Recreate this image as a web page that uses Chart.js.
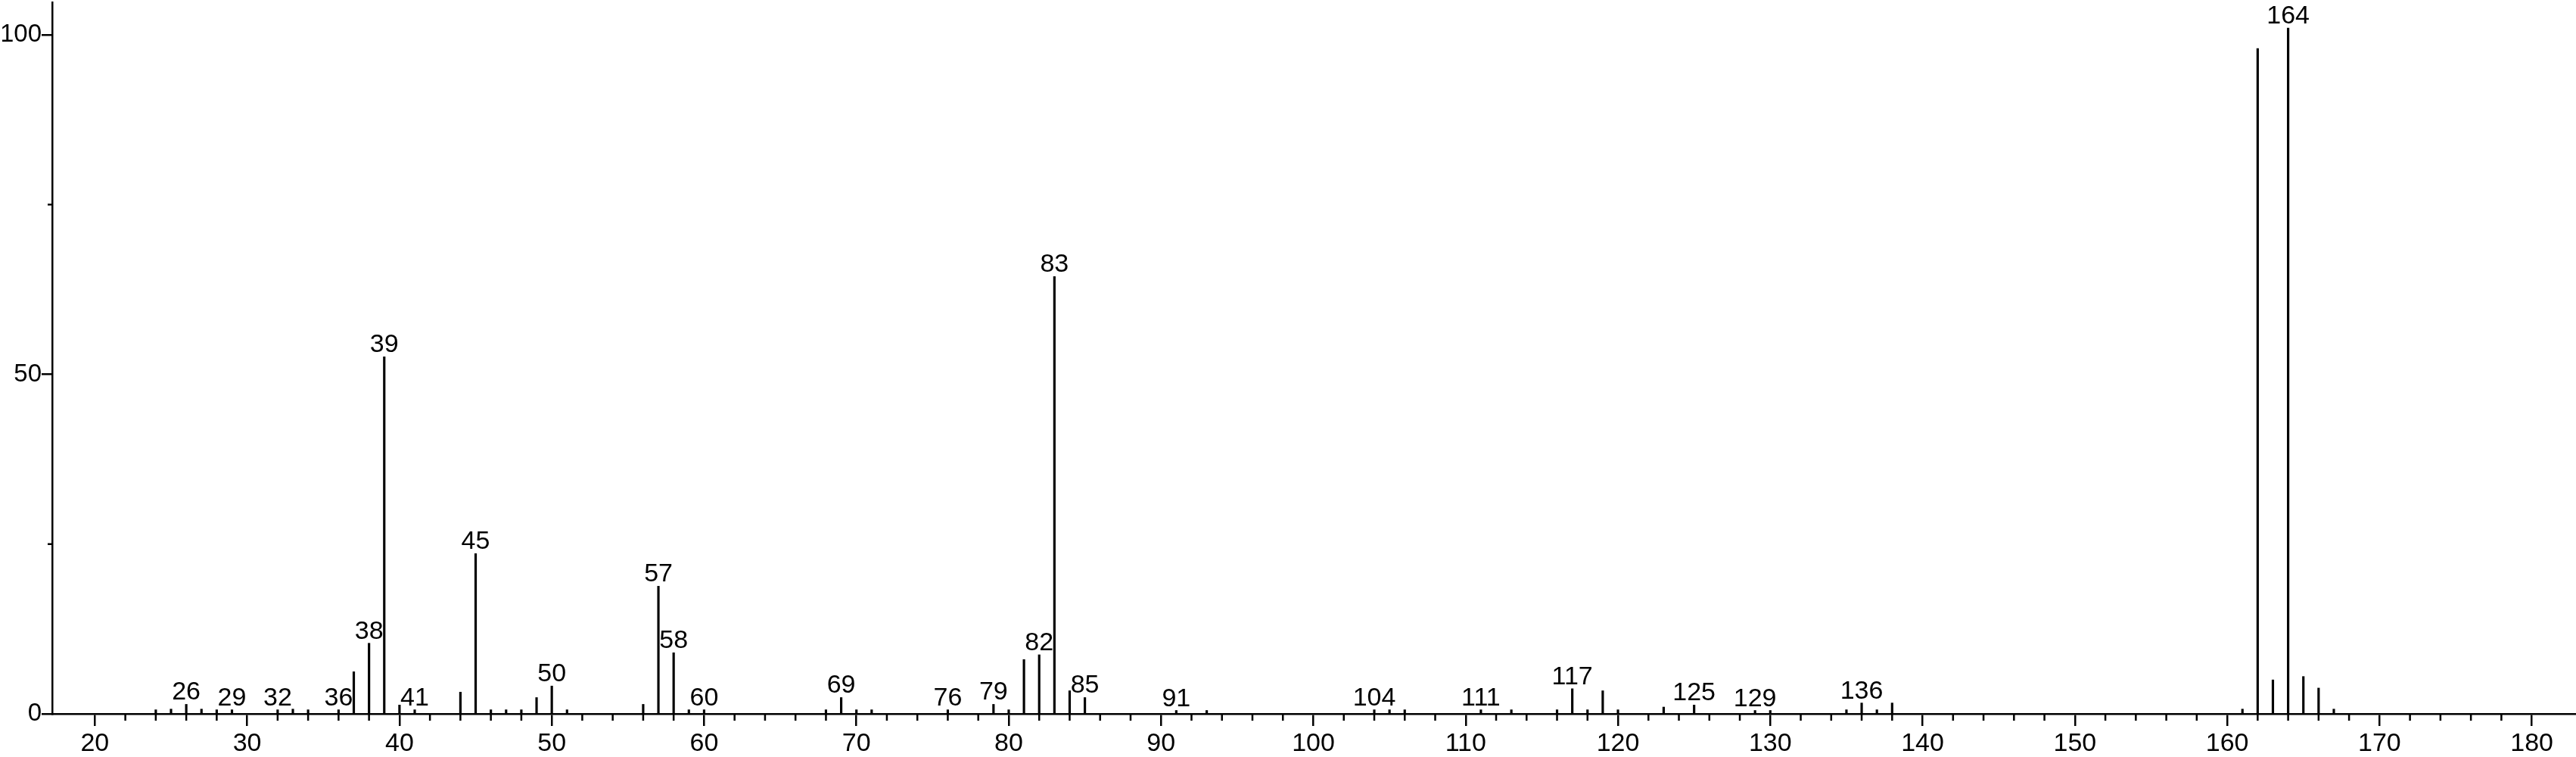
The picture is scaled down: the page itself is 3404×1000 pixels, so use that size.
<!DOCTYPE html>
<html>
<head>
<meta charset="utf-8">
<script src="https://cdn.jsdelivr.net/npm/chart.js@4.4.1/dist/chart.umd.min.js"></script>
<style>
  body { margin: 0; background: #fff; }
  #wrap { width: 3404px; height: 1000px; }
</style>
</head>
<body>
<div id="wrap"><canvas id="spectrum"></canvas></div>
<script>
// m/z of every stick and its relative intensity (%)
let mz = [24, 25, 26, 27, 28, 29, 32, 33, 34, 36, 37, 38, 39, 40, 41, 44, 45, 46, 47, 48,
  49, 50, 51, 56, 57, 58, 59, 60, 68, 69, 70, 71, 76, 79, 80, 81, 82, 83, 84, 85,
  91, 93, 104, 105, 106, 111, 113, 116, 117, 118, 119, 120, 123, 125, 129, 130,
  135, 136, 137, 138, 161, 162, 163, 164, 165, 166, 167];
let intensity = [0.6, 0.7, 1.4, 0.7, 0.6, 0.6, 0.6, 0.7, 0.6, 0.6, 6.2, 10.4, 52.6, 1.3, 0.6, 3.2, 23.6, 0.6, 0.6, 0.6,
  2.4, 4.1, 0.6, 1.4, 18.8, 9.0, 0.6, 0.6, 0.6, 2.4, 0.6, 0.6, 0.6, 1.4, 0.6, 8.0, 8.7, 64.4, 3.4, 2.4,
  0.5, 0.5, 0.6, 0.6, 0.6, 0.6, 0.6, 0.6, 3.7, 0.6, 3.4, 0.6, 1.0, 1.3, 0.5, 0.5,
  0.6, 1.6, 0.6, 1.6, 0.7, 98.0, 5.0, 101.0, 5.5, 3.8, 0.7];
// sticks that carry a m/z label
let labeled = [26, 29, 32, 36, 38, 39, 41, 45, 50, 57, 58, 60, 69, 76, 79, 82, 83, 85,
  91, 104, 111, 117, 125, 129, 136, 164];
let xTicks = [20, 30, 40, 50, 60, 70, 80, 90, 100, 110, 120, 130, 140, 150, 160, 170, 180];
let yTicks = [0, 50, 100];
let yMinor = [25, 75];

const FONT = "'Liberation Sans', Arial, sans-serif";

const points = [];
for (i = 0; i < mz.length; i++) {
  points.push({ x: mz[i], y: intensity[i] });
}

const peakLabels = {
  id: "peakLabels",
  afterDatasetsDraw(chart) {
    const ctx = chart.ctx;
    const xs = chart.scales.x;
    const ys = chart.scales.y;
    ctx.save();
    ctx.fillStyle = "#000";
    ctx.font = "34px " + FONT;
    ctx.textAlign = "center";
    ctx.textBaseline = "alphabetic";
    labeled.forEach((m) => {
      const v = intensity[mz.indexOf(m)];
      ctx.fillText(String(m), xs.getPixelForValue(m), ys.getPixelForValue(v) - 6);
    });
    ctx.restore();
  },
};

// short ticks between the labelled ones
const minorTicks = {
  id: "minorTicks",
  afterDraw(chart) {
    const ctx = chart.ctx;
    const xs = chart.scales.x;
    const ys = chart.scales.y;
    const area = chart.chartArea;
    ctx.save();
    ctx.strokeStyle = "#000";
    ctx.lineWidth = 2.5;
    ctx.beginPath();
    for (let v = 20; v <= 180; v += 2) {
      if (v % 10 === 0) continue;
      const px = xs.getPixelForValue(v);
      ctx.moveTo(px, area.bottom);
      ctx.lineTo(px, area.bottom + 9);
    }
    yMinor.forEach((v) => {
      const py = ys.getPixelForValue(v);
      ctx.moveTo(area.left, py);
      ctx.lineTo(area.left - 6, py);
    });
    ctx.stroke();
    ctx.restore();
  },
};

const config = {
  type: "bar",
  data: {
    datasets: [
      {
        data: points,
        backgroundColor: "#000",
        borderWidth: 0,
        barThickness: 2.5,
      },
    ],
  },
  options: {
    responsive: true,
    maintainAspectRatio: false,
    animation: false,
    layout: { padding: { left: 3, top: 3, right: 0, bottom: 0 } },
    plugins: { legend: { display: false }, tooltip: { enabled: false } },
    scales: {
      x: {
        type: "linear",
        min: 17.2,
        max: 182.9,
        offset: false,
        afterBuildTicks: (s) => { s.ticks = xTicks.map((v) => ({ value: v })); },
        afterFit: (s) => { s.height = 57; s.paddingLeft = 0; s.paddingRight = 0; },
        ticks: { color: "#000", font: { family: FONT, size: 34 }, padding: 3, maxRotation: 0, autoSkip: false },
        grid: { offset: false, drawOnChartArea: false, color: "#000", lineWidth: 2.5, tickLength: 16 },
        border: { color: "#000", width: 2.5 },
      },
      y: {
        min: 0,
        max: 104.8,
        afterBuildTicks: (s) => { s.ticks = yTicks.map((v) => ({ value: v })); },
        afterFit: (s) => { s.width = 66; s.paddingTop = 0; s.paddingBottom = 0; },
        ticks: { color: "#000", font: { family: FONT, size: 33 }, padding: 0 },
        grid: { drawOnChartArea: false, color: "#000", lineWidth: 2.5, tickLength: 14 },
        border: { color: "#000", width: 2.5 },
      },
    },
  },
  plugins: [peakLabels, minorTicks],
};

const myChart = new Chart(document.getElementById("spectrum"), config);
</script>
</body>
</html>
